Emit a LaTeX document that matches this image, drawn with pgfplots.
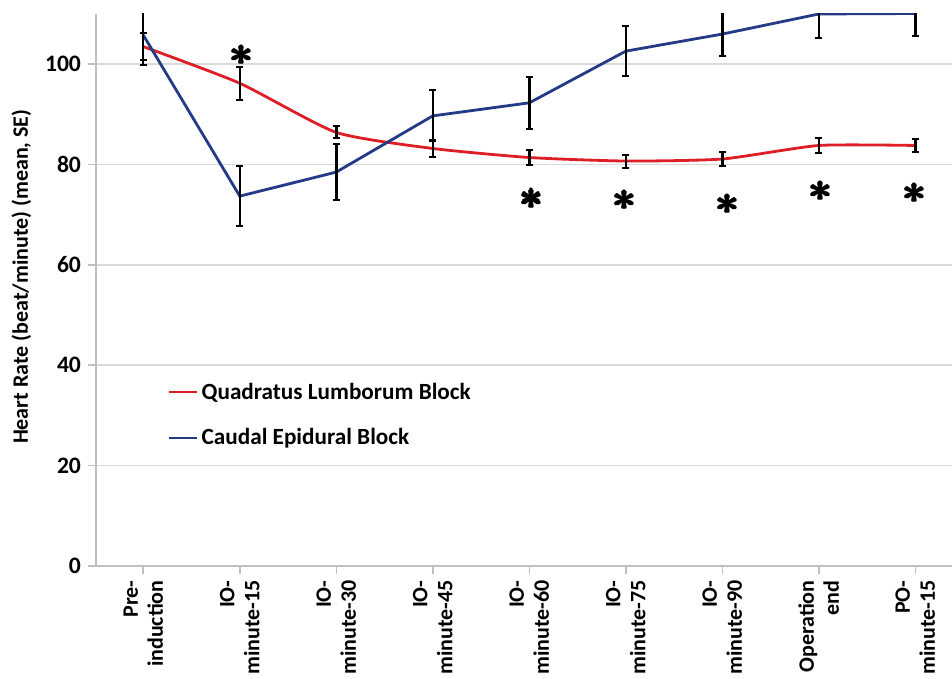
\documentclass[border=0pt]{standalone}
\usepackage{amsmath}
\usepackage{pgfplots}
\pgfplotsset{compat=1.18}
\usepackage{fontspec}
\setmainfont{Carlito}
\definecolor{qlred}{RGB}{222,30,38}
\definecolor{ceblue}{RGB}{36,58,135}
\definecolor{gridgray}{RGB}{217,217,217}
\definecolor{axgray}{RGB}{191,191,191}
\begin{document}
\begin{tikzpicture}
\begin{axis}[
  scale only axis, width=428pt, height=276pt,
  xmin=-0.49, xmax=8.38, ymin=0, ymax=110,
  axis lines=left,
  axis line style={-, axgray, line width=0.8pt},
  xtick={0,1,2,3,4,5,6,7,8},
  xticklabels={{Pre-\\induction},{IO-\\minute-15},{IO-\\minute-30},{IO-\\minute-45},{IO-\\minute-60},{IO-\\minute-75},{IO-\\minute-90},{Operation\\end},{PO-\\minute-15}},
  xticklabel style={rotate=90, anchor=east, align=right, font=\bfseries\fontsize{11}{12.5}\selectfont, inner sep=1pt, xshift=-2pt},
  ytick={0,20,40,60,80,100},
  yticklabel style={font=\bfseries\fontsize{11.8}{13}\selectfont},
  /pgf/number format/assume math mode=true,
  ymajorgrids, grid style={gridgray, line width=0.8pt},
  tick style={axgray, line width=0.8pt}, tick align=outside, major tick length=4pt,
  ylabel={Heart Rate (beat/minute) (mean, SE)},
  ylabel style={at={(ticklabel cs:0.524)}, font=\bfseries\fontsize{11}{12}\selectfont},
  legend style={at={(rel axis cs:0.083,0.34)}, anchor=north west, draw=none, fill=none,
    font=\bfseries\fontsize{11.6}{13}\selectfont, row sep=9pt, inner sep=0pt},
  legend cell align=left,
  legend image code/.code={\draw[#1, line width=1.1pt] (0pt,0pt) -- (14pt,0pt);},
  error bars/error bar style={black, line width=1.2pt},
  error bars/error mark options={black, rotate=90, mark size=1.8pt, line width=1pt},
]
\addplot[qlred, line width=1.4pt, smooth, tension=0.35, mark=none,
  error bars/.cd, y dir=both, y explicit]
  coordinates {
  (0,103.5) +- (0,2.7)
  (1,96.2) +- (0,3.3)
  (2,86.4) +- (0,1.2)
  (3,83.2) +- (0,1.6)
  (4,81.4) +- (0,1.4)
  (5,80.7) +- (0,1.3)
  (6,81.1) +- (0,1.4)
  (7,83.8) +- (0,1.4)
  (8,83.8) +- (0,1.3)
  };
\addlegendentry{Quadratus Lumborum Block}
\addplot[ceblue, line width=1.4pt, mark=none,
  error bars/.cd, y dir=both, y explicit]
  coordinates {
  (0,105.8) +- (0,6.0)
  (1,73.7) +- (0,6.0)
  (2,78.5) +- (0,5.6)
  (3,89.7) +- (0,5.1)
  (4,92.3) +- (0,5.2)
  (5,102.6) +- (0,5.0)
  (6,106.0) +- (0,4.4)
  (7,110.0) +- (0,4.8)
  (8,110.1) +- (0,4.5)
  };
\addlegendentry{Caudal Epidural Block}
\addplot[only marks, mark=text, text mark={\fontsize{22}{22}\selectfont\boldmath$\pmb{\ast}$}, forget plot]
  coordinates {
  (1.03,101.8) (4.03,73.2) (5.0,72.9) (6.06,72.1) (7.03,74.7) (8.0,74.3)
  };
\end{axis}
\pgfresetboundingbox
\path[use as bounding box] ([xshift=-48pt, yshift=-56.5pt]current axis.south west) rectangle ([yshift=7pt]current axis.north east);
\end{tikzpicture}
\end{document}
